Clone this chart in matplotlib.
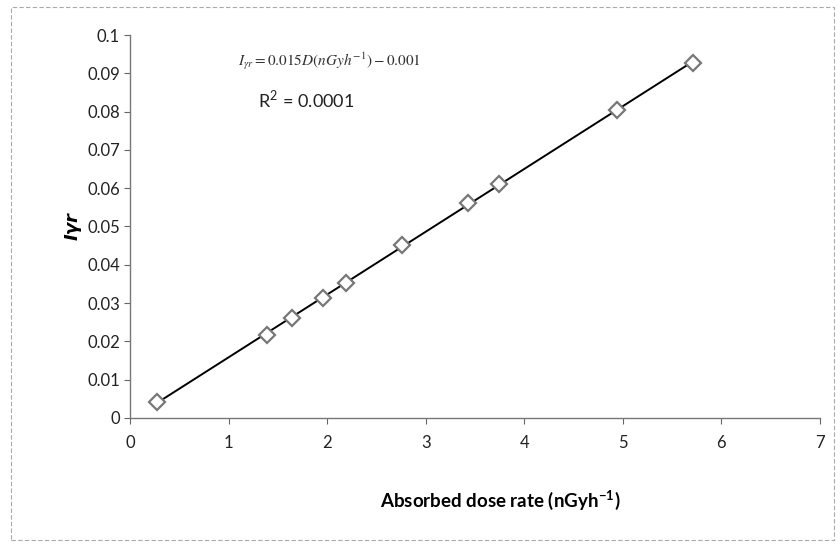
import numpy as np
import matplotlib.pyplot as plt
from matplotlib.patches import Rectangle

plt.rcParams['font.family'] = ['Lato', 'DejaVu Sans']
plt.rcParams['mathtext.fontset'] = 'stix'

# absorbed dose rate (nGy/h) and corresponding I_gamma_r values
dose_rate = [0.27, 1.39, 1.64, 1.96, 2.19, 2.76, 3.43, 3.74, 4.94, 5.71]
i_gamma_r = [0.0042, 0.0217, 0.0261, 0.0313, 0.0352, 0.0452, 0.0561, 0.0611, 0.0804, 0.0927]

x_ticks = [0, 1, 2, 3, 4, 5, 6, 7]
y_ticks = [0, 0.01, 0.02, 0.03, 0.04, 0.05, 0.06, 0.07, 0.08, 0.09, 0.1]
y_ticklabels = ['0', '0.01', '0.02', '0.03', '0.04', '0.05', '0.06', '0.07', '0.08', '0.09', '0.1']

fig = plt.figure(figsize=(8.4, 5.47), dpi=100)
ax = fig.add_axes([0.155, 0.236, 0.821, 0.70])

# linear trend line over the measured range
coef = np.polyfit(dose_rate, i_gamma_r, 1)
xfit = np.array([min(dose_rate), max(dose_rate)])
ax.plot(xfit, np.polyval(coef, xfit), color='black', lw=1.4, zorder=2)
ax.plot(dose_rate, i_gamma_r, ls='none', marker='D', markersize=8,
        markerfacecolor='white', markeredgecolor='#777777', markeredgewidth=1.6, zorder=3)

ax.set_xlim(0, 7)
ax.set_ylim(0, 0.1)
ax.set_xticks(x_ticks)
ax.set_yticks(y_ticks)
ax.set_yticklabels(y_ticklabels)
ax.tick_params(axis='both', direction='out', length=4, color='#666666', labelsize=12, labelcolor='#222222')
ax.tick_params(axis='x', pad=8)
for side in ('top', 'right'):
    ax.spines[side].set_visible(False)
for side in ('left', 'bottom'):
    ax.spines[side].set_color('#777777')
    ax.spines[side].set_linewidth(1.0)

ax.set_xlabel('Absorbed dose rate (nGyh$^{\\mathregular{-1}}$)', fontsize=13.5, fontweight='bold')
ax.xaxis.set_label_coords(0.536, -0.185)
ax.set_ylabel('Iγr', fontsize=13, fontweight='bold', style='italic', family=['DejaVu Sans'], labelpad=4)

ax.text(0.157, 0.932, r'$I_{\gamma r} = 0.015D(nGyh^{-1}) - 0.001$', transform=ax.transAxes,
        fontsize=11, color='#333333', va='center')
ax.text(0.185, 0.83, 'R$^{\\mathregular{2}}$ = 0.0001', transform=ax.transAxes,
        fontsize=13, color='#222222', va='center')

fig.patches.append(Rectangle((0.013, 0.012), 0.98, 0.975, transform=fig.transFigure,
                             fill=False, edgecolor='#aaaaaa', lw=0.8, ls=(0, (4, 2))))

fig.savefig('out.png', dpi=100)
